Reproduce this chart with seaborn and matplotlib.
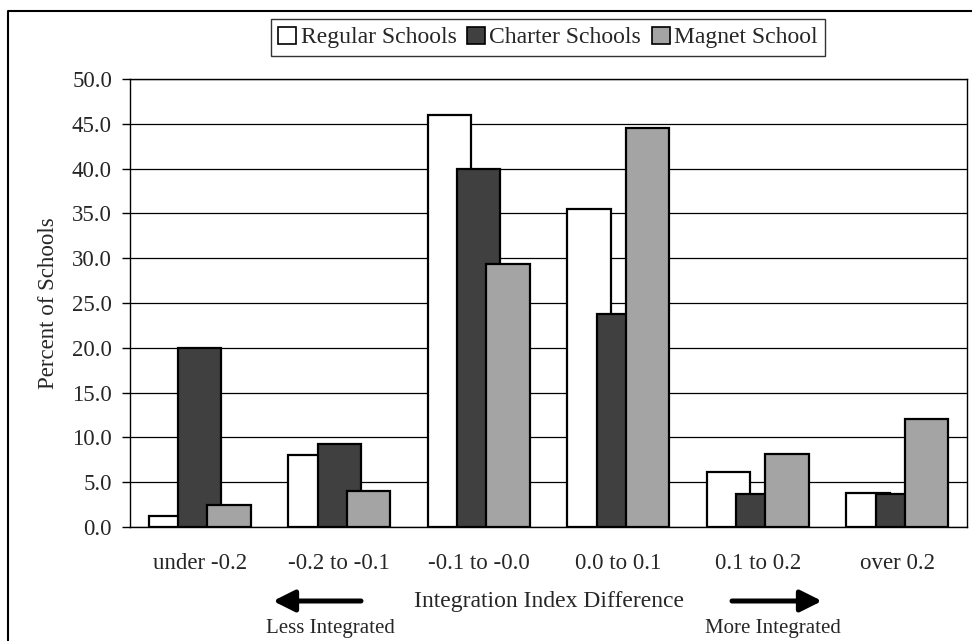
import numpy as np
import pandas as pd
import matplotlib
matplotlib.use("Agg")
import matplotlib.pyplot as plt
import seaborn as sns
from matplotlib.patches import Patch, FancyArrowPatch
from matplotlib.lines import Line2D

# 데이터
categories = ["under -0.2", "-0.2 to -0.1", "-0.1 to -0.0", "0.0 to 0.1", "0.1 to 0.2", "over 0.2"]
regular = [1.2, 8.0, 46.0, 35.5, 6.1, 3.8]
charter = [20.0, 9.3, 40.0, 23.8, 3.7, 3.7]
magnet = [2.4, 4.0, 29.3, 44.5, 8.1, 12.1]
series_names = ["Regular Schools", "Charter Schools", "Magnet School"]
yticks = [0, 5, 10, 15, 20, 25, 30, 35, 40, 45, 50]

colors = ["#ffffff", "#404040", "#a4a4a4"]

df = pd.DataFrame({"cat": categories, series_names[0]: regular,
                   series_names[1]: charter, series_names[2]: magnet})
df = df.melt(id_vars="cat", var_name="type", value_name="pct")

sns.set_style("white")
plt.rcParams['font.family'] = ['Liberation Serif', 'DejaVu Serif']

fig = plt.figure(figsize=(9.72, 6.41), dpi=100)
ax = fig.add_axes([130/972, 1-527/641, 837/972, 448/641])

sns.barplot(data=df, x="cat", y="pct", hue="type", order=categories,
            hue_order=series_names, palette=colors, width=0.63,
            edgecolor="black", linewidth=1.6, legend=False, ax=ax, zorder=3)

# 엑셀식 겹치는 막대
for bar in ax.patches:
    cx = bar.get_x() + bar.get_width() / 2
    bar.set_width(0.31)
    bar.set_x(cx - 0.155)

ax.set_ylim(0, 50)
ax.set_xlim(-0.5, 5.5)
ax.set_yticks(yticks)
ax.set_yticklabels([f"{v:.1f}" for v in yticks], fontsize=16.5)
ax.yaxis.grid(True, color="black", linewidth=0.9)
ax.set_axisbelow(True)

# x 눈금은 범주 경계에
ax.set_xticks(np.arange(len(categories)))
ax.set_xticklabels(categories, fontsize=16.5)
ax.tick_params(axis="x", length=0, pad=19)
ax.set_xticks(np.arange(-0.5, len(categories)), minor=True)
ax.tick_params(axis="x", which="minor", length=6, width=1, color="black", direction="out")
ax.tick_params(axis="y", length=6, width=1, color="black", direction="out", left=True, pad=7)

for s in ax.spines.values():
    s.set_color("black")
    s.set_linewidth(1.0)

ax.set_xlabel("")
ax.set_ylabel("Percent of Schools", fontsize=16.5, labelpad=9)

# 범례
handles = [Patch(facecolor=c, edgecolor="black", linewidth=1.2) for c in colors]
leg = fig.legend(handles, series_names, loc="center", bbox_to_anchor=(548/972, 1-37.5/641),
                 ncol=3, frameon=True, fancybox=False, edgecolor="black", fontsize=17,
                 handlelength=0.75, handleheight=0.75, handletextpad=0.2,
                 columnspacing=0.45, borderpad=0.3)
leg.get_frame().set_linewidth(1.0)

# 축 제목과 화살표
fig.text(549/972, 1-601/641, "Integration Index Difference", ha="center", va="center", fontsize=17)
fig.text(330/972, 1-629/641, "Less Integrated", ha="center", va="center", fontsize=15)
fig.text(773/972, 1-629/641, "More Integrated", ha="center", va="center", fontsize=15)
arrow = dict(arrowstyle="-|>,head_length=0.5,head_width=0.25", lw=3.6, color="black",
             mutation_scale=26, shrinkA=0, shrinkB=0)
fig.add_artist(FancyArrowPatch((361/972, 1-601/641), (273/972, 1-601/641),
                               transform=fig.transFigure, **arrow))
fig.add_artist(FancyArrowPatch((732/972, 1-601/641), (822/972, 1-601/641),
                               transform=fig.transFigure, **arrow))

# 바깥 테두리 (스캔 잘림)
fig.add_artist(Line2D([8/972, 8/972, 1.0], [0.0, 1-11/641, 1-11/641],
                      transform=fig.transFigure, color="black", linewidth=1.5))

fig.savefig("out.png", dpi=100)
